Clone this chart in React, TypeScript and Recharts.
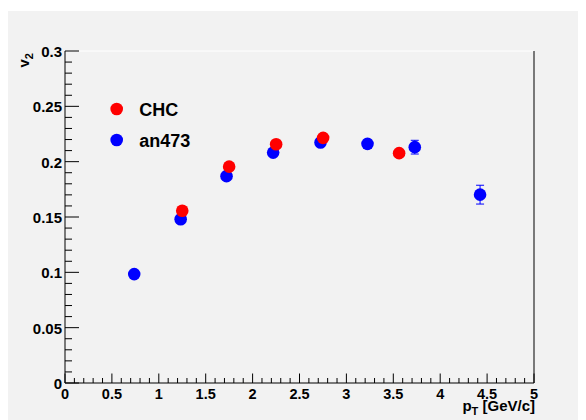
import React from 'react';
import { ScatterChart, Scatter, XAxis, YAxis, ReferenceLine, ErrorBar, Label } from 'recharts';

// an473 (blue)
const an473X = [0.738, 1.233, 1.722, 2.219, 2.724, 3.225, 3.729, 4.425];
const an473V2 = [0.0984, 0.148, 0.1869, 0.2082, 0.2173, 0.2161, 0.2131, 0.1702];
const an473Err = [0.001, 0.002, 0.002, 0.002, 0.003, 0.004, 0.0062, 0.0085];

// CHC (red)
const chcX = [1.25, 1.75, 2.251, 2.752, 3.562];
const chcV2 = [0.1557, 0.1955, 0.2158, 0.2215, 0.2077];
const chcErr = [0.001, 0.001, 0.001, 0.001, 0.001];

const xTickLabels = ['0', '0.5', '1', '1.5', '2', '2.5', '3', '3.5', '4', '4.5', '5'];
const yTickLabels = ['0', '0.05', '0.1', '0.15', '0.2', '0.25', '0.3'];

const BG = '#f2f2f2';
const FONT = '"Liberation Sans", Arial, Helvetica, sans-serif';

const withMinors = (labels: string[], n: number) => {
  const majors = labels.map(Number);
  const out: number[] = [];
  for (let i = 0; i < majors.length - 1; i++) {
    const step = (majors[i + 1] - majors[i]) / (n + 1);
    for (let k = 0; k <= n; k++) out.push(+(majors[i] + k * step).toFixed(6));
  }
  out.push(majors[majors.length - 1]);
  return out;
};

const majorLabel = (labels: string[], v: number) => labels.find(l => Math.abs(Number(l) - v) < 1e-6);

const an473 = an473X.map((x, i) => ({ x, y: an473V2[i], err: an473Err[i] }));
const chc = chcX.map((x, i) => ({ x, y: chcV2[i], err: chcErr[i] }));

const XTick = (props: any) => {
  const { x, y, payload } = props;
  const lab = majorLabel(xTickLabels, payload.value);
  return (
    <g>
      <line x1={x} x2={x} y1={y} y2={y - (lab ? 9.5 : 5)} stroke="#000" strokeWidth={1} />
      {lab && (
        <text x={x} y={y + 15.5} textAnchor="middle" fontFamily={FONT} fontWeight="bold" fontSize={14.5} fill="#000">
          {lab}
        </text>
      )}
    </g>
  );
};

const YTick = (props: any) => {
  const { x, y, payload } = props;
  const lab = majorLabel(yTickLabels, payload.value);
  return (
    <g>
      <line x1={x} x2={x + (lab ? 14 : 7)} y1={y} y2={y} stroke="#000" strokeWidth={1} />
      {lab && (
        <text x={x - 3} y={y + 6} textAnchor="end" fontFamily={FONT} fontWeight="bold" fontSize={15} fill="#000">
          {lab}
        </text>
      )}
    </g>
  );
};

const dot = (color: string) => (props: any) => <circle cx={props.cx} cy={props.cy} r={6.3} fill={color} />;

const LegendBox = () => (
  <svg width={120} height={64} style={{ position: 'absolute', left: 96, top: 80 }}>
    <circle cx={12.7} cy={18} r={6.3} fill="#ff0000" />
    <text x={35.3} y={25} fontFamily={FONT} fontWeight="bold" fontSize={18}>CHC</text>
    <circle cx={12.7} cy={49} r={6.3} fill="#0000ff" />
    <text x={35.3} y={55.7} fontFamily={FONT} fontWeight="bold" fontSize={18}>an473</text>
  </svg>
);

export default function App() {
  return (
    <div style={{ position: 'relative', marginTop: 3, width: 578, height: 409, background: BG }}>
      <ScatterChart width={578} height={409} margin={{ top: 40, right: 52, left: 0, bottom: 0 }}>
        <XAxis
          type="number"
          dataKey="x"
          domain={[0, 5]}
          ticks={withMinors(xTickLabels, 4)}
          interval={0}
          tickSize={0}
          tickMargin={0}
          tickLine={false}
          tick={<XTick />}
          height={37}
          axisLine={{ stroke: '#000' }}
        >
          <Label
            content={() => (
              <text x={527} y={399.5} textAnchor="end" fontFamily={FONT} fontWeight="bold" fontSize={15} fill="#000">
                p<tspan fontSize={11} dy={4}>T</tspan>
                <tspan dy={-4}> [GeV/c]</tspan>
              </text>
            )}
          />
        </XAxis>
        <YAxis
          type="number"
          dataKey="y"
          domain={[0, 0.3]}
          allowDataOverflow
          ticks={withMinors(yTickLabels, 4)}
          interval={0}
          tickSize={0}
          tickMargin={0}
          tickLine={false}
          tick={<YTick />}
          width={57}
          axisLine={{ stroke: '#000' }}
        >
          <Label
            content={() => (
              <text
                x={20.5}
                y={42}
                textAnchor="end"
                transform="rotate(-90, 20.5, 42)"
                fontFamily={FONT}
                fontWeight="bold"
                fontSize={15}
                fill="#000"
              >
                v<tspan fontSize={11} dy={4}>2</tspan>
              </text>
            )}
          />
        </YAxis>
        <ReferenceLine y={0.3} stroke="#ffffff" strokeWidth={1} />
        <ReferenceLine x={5} stroke="#000" strokeWidth={1} />
        <Scatter name="an473" data={an473} fill="#0000ff" shape={dot('#0000ff')} isAnimationActive={false}>
          <ErrorBar dataKey="err" direction="y" width={4} stroke="#0000ff" strokeWidth={1} />
        </Scatter>
        <Scatter name="CHC" data={chc} fill="#ff0000" shape={dot('#ff0000')} isAnimationActive={false} />
      </ScatterChart>
      <LegendBox />
    </div>
  );
}
